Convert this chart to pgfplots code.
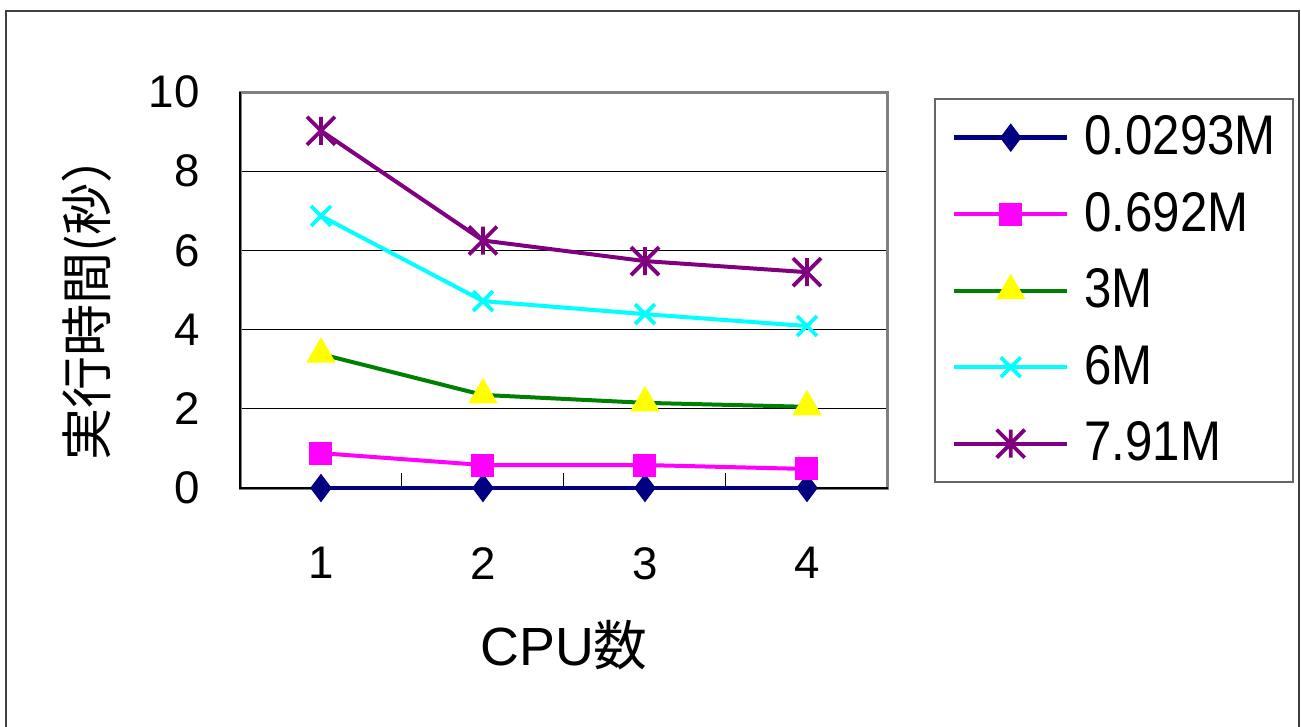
\documentclass[border=0pt]{standalone}
\usepackage{fontspec}
\setmainfont{Liberation Sans}
\newfontfamily\cjk{Noto Sans CJK JP}
\newfontfamily\legfont[FakeStretch=0.88]{Liberation Sans}
\usepackage{pgfplots}
\pgfplotsset{compat=1.18}
\definecolor{cnavy}{RGB}{0,0,128}
\definecolor{cmag}{RGB}{255,0,255}
\definecolor{cgreen}{RGB}{0,128,0}
\definecolor{cyel}{RGB}{255,255,0}
\definecolor{ccyan}{RGB}{0,255,255}
\definecolor{cpurp}{RGB}{128,0,128}
\pgfdeclareplotmark{xbar}{%
  \pgfpathmoveto{\pgfqpoint{-\pgfplotmarksize}{-\pgfplotmarksize}}%
  \pgfpathlineto{\pgfqpoint{\pgfplotmarksize}{\pgfplotmarksize}}%
  \pgfpathmoveto{\pgfqpoint{-\pgfplotmarksize}{\pgfplotmarksize}}%
  \pgfpathlineto{\pgfqpoint{\pgfplotmarksize}{-\pgfplotmarksize}}%
  \pgfpathmoveto{\pgfqpoint{0pt}{-\pgfplotmarksize}}%
  \pgfpathlineto{\pgfqpoint{0pt}{\pgfplotmarksize}}%
  \pgfusepathqstroke}
\begin{document}
\begin{tikzpicture}
\begin{axis}[
  at={(2.40cm,2.39cm)}, anchor=south west,
  scale only axis, width=6.48cm, height=3.96cm,
  xmin=0.5, xmax=4.5, ymin=0, ymax=10,
  xtick={1,2,3,4}, minor xtick={1.5,2.5,3.5},
  ytick={0,2,4,6,8,10},
  xtick pos=bottom, ytick pos=left,
  tick align=inside,
  major tick length=0.15cm, minor tick length=0.15cm,
  major x tick style={draw=none},
  tick style={black, line width=0.01cm},
  ymajorgrids, major grid style={black, line width=0.012cm},
  axis line style={draw=none},
  clip=false,
  /pgf/number format/assume math mode=true,
  ticklabel style={font=\fontsize{13}{15}\selectfont},
  yticklabel style={xshift=-0.28cm},
  xticklabel style={yshift=-0.47cm},
  xlabel={CPU{\cjk 数}},
  ylabel={{\cjk 実行時間(秒）}},
  xlabel style={at={(axis description cs:0.5,0)}, anchor=north, yshift=-1.20cm, font=\fontsize{15.3}{17}\selectfont},
  ylabel style={at={(axis description cs:-0.171,0.485)}, anchor=south, font=\fontsize{14.8}{17}\selectfont},
  legend style={at={(1.071,0.985)}, anchor=north west, draw=black!60, line width=0.02cm,
    inner xsep=0.17cm, inner ysep=0.005cm,
    font=\legfont\fontsize{15.9}{19}\selectfont,
    row sep=0pt,
    nodes={minimum height=0.765cm, inner ysep=0pt, inner xsep=0pt},
    /tikz/every odd column/.append style={column sep=0.15cm}},
  legend cell align=left,
  legend image code/.code={\draw[mark repeat=2,mark phase=2,#1] plot coordinates {(0cm,0cm) (0.565cm,0cm) (1.13cm,0cm)};},
  every axis plot/.append style={line width=0.04cm},
]
\draw[gray, line width=0.03cm] (rel axis cs:0,0) rectangle (rel axis cs:1,1);
\draw[black, line width=0.015cm] (rel axis cs:0,1) -- (rel axis cs:0,0) -- (rel axis cs:1,0);
\addplot[cnavy, line width=0.045cm, mark=diamond*, mark size=0.135cm, mark options={fill=cnavy, draw=cnavy, line width=0.01cm}] coordinates {(1,0) (2,0) (3,0) (4,0)};
\addlegendentry{0.0293M}
\addplot[cmag, mark=square*, mark size=0.11cm, mark options={fill=cmag, draw=cmag, line width=0.01cm}] coordinates {(1,0.88) (2,0.58) (3,0.58) (4,0.48)};
\addlegendentry{0.692M}
\addplot[cgreen, mark=triangle*, mark size=0.16cm, mark options={fill=cyel, draw=cyel, line width=0.01cm}] coordinates {(1,3.38) (2,2.35) (3,2.15) (4,2.05)};
\addlegendentry{3M}
\addplot[ccyan, mark=x, mark size=0.14cm, mark options={draw=ccyan, line width=0.038cm}] coordinates {(1,6.87) (2,4.72) (3,4.39) (4,4.09)};
\addlegendentry{6M}
\addplot[cpurp, mark=xbar, mark size=0.14cm, mark options={draw=cpurp, line width=0.038cm}] coordinates {(1,9.02) (2,6.25) (3,5.73) (4,5.45)};
\addlegendentry{7.91M}
\end{axis}
\draw[black!75, line width=0.02cm] (0.06cm,-0.5cm) -- (0.06cm,7.16cm) -- (12.99cm,7.16cm) -- (12.99cm,-0.5cm);
\pgfresetboundingbox
\path[use as bounding box] (0,0) rectangle (13.01cm,7.27cm);
\end{tikzpicture}
\end{document}
